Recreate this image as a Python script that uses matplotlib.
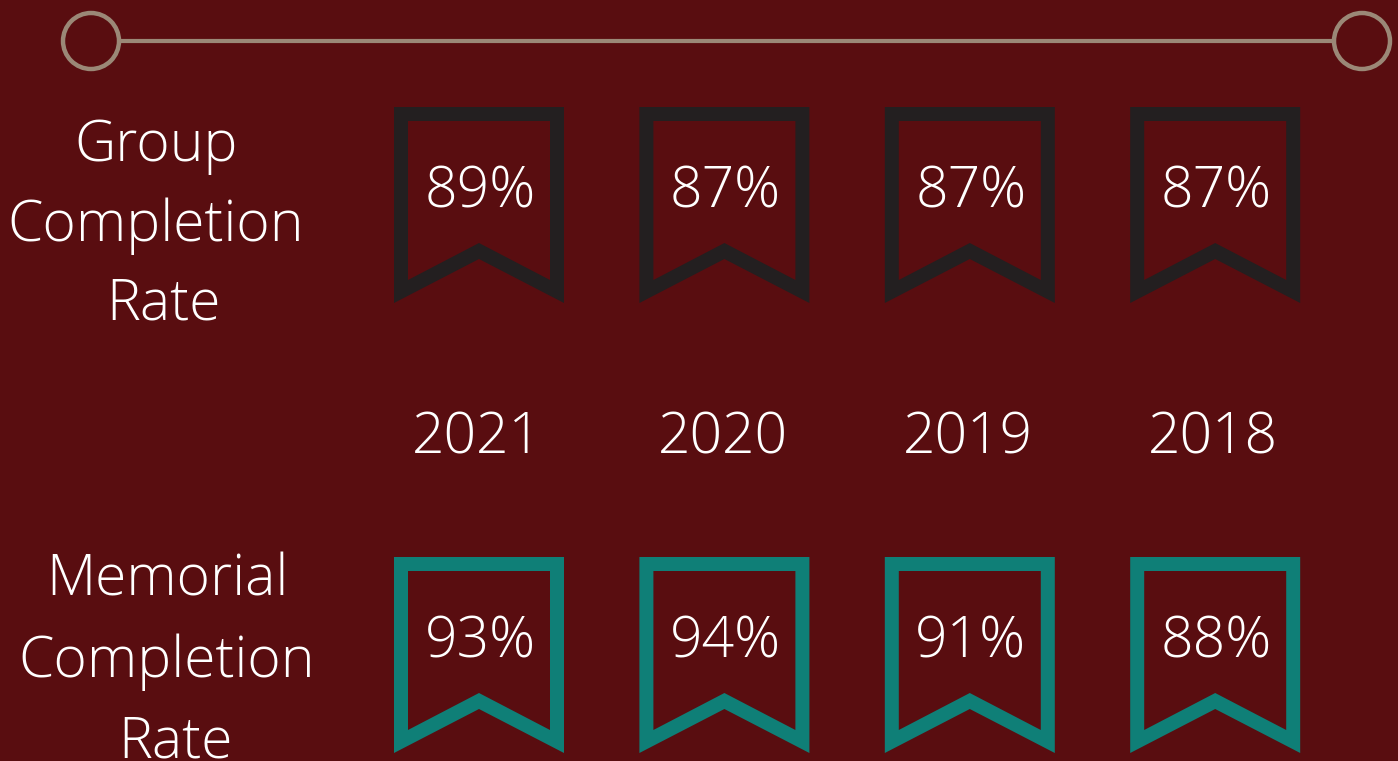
import matplotlib
matplotlib.use("Agg")
import matplotlib.pyplot as plt
from matplotlib.path import Path
from matplotlib.patches import PathPatch, Circle

years = ["2021", "2020", "2019", "2018"]
group_rates = [89, 87, 87, 87]
memorial_rates = [93, 94, 91, 88]

BG = "#590d10"
DARK = "#231f20"
TEAL = "#0f7f77"
TAN = "#9b8877"
FONT = ["Open Sans", "DejaVu Sans"]

plt.rcParams["font.family"] = FONT

W, H = 1398, 761
fig = plt.figure(figsize=(W / 100, H / 100), dpi=100, facecolor=BG)
ax = fig.add_axes([0, 0, 1, 1])
ax.set_xlim(0, W)
ax.set_ylim(H, 0)
ax.axis("off")
ax.set_facecolor(BG)

col_x0, col_dx = 479, 245.4


def ribbon(cx, top, color):
    # outer outline + inner hole, bookmark shape with a notch at the bottom
    outer = [(cx - 85, top), (cx + 85, top), (cx + 85, top + 196),
             (cx, top + 152), (cx - 85, top + 196), (cx - 85, top)]
    inner = [(cx - 71, top + 14), (cx - 71, top + 173), (cx, top + 136),
             (cx + 71, top + 173), (cx + 71, top + 14), (cx - 71, top + 14)]
    verts = outer + inner
    codes = ([Path.MOVETO] + [Path.LINETO] * 4 + [Path.CLOSEPOLY]) * 2
    ax.add_patch(PathPatch(Path(verts, codes), facecolor=color, edgecolor="none"))


# top line with circles at both ends
r = 28
ax.plot([91 + r, 1362 - r], [41, 41], color=TAN, lw=3, solid_capstyle="butt")
for cx in (91, 1362):
    ax.add_patch(Circle((cx, 41), r, facecolor="none", edgecolor=TAN, lw=3.2))

text_kw = dict(color="white", fontsize=41, fontweight="light", ha="center", va="baseline")

for i, (yr, g, m) in enumerate(zip(years, group_rates, memorial_rates)):
    cx = col_x0 + i * col_dx
    ribbon(cx, 107, DARK)
    ribbon(cx, 557, TEAL)
    ax.text(cx + 1, 207, f"{g}%", **text_kw)
    ax.text(cx + 1, 657, f"{m}%", **text_kw)
    ax.text(cx - 2, 453, yr, **text_kw)

# the last "Rate" runs off the bottom edge, as in the original
for txt, x, y in [("Group", 156, 161), ("Completion", 156, 241), ("Rate", 163, 320),
                  ("Memorial", 167, 596), ("Completion", 167, 677), ("Rate", 175, 757)]:
    ax.text(x, y, txt, **text_kw)

fig.savefig("out.png", dpi=100, facecolor=BG)
